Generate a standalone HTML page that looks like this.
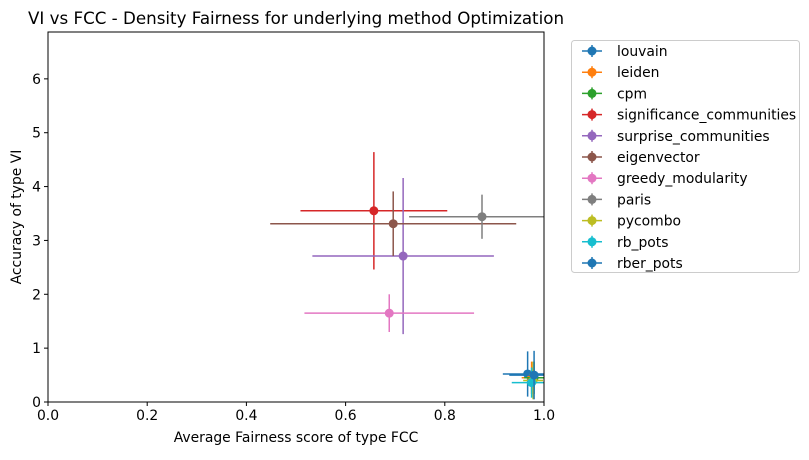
<!DOCTYPE html>
<html><head><meta charset="utf-8"><style>
body{margin:0;background:#fff;font-family:"Liberation Sans","DejaVu Sans",sans-serif;}
svg text{font-family:"DejaVu Sans","Liberation Sans",sans-serif;}
</style></head><body>
<svg id="c" width="809" height="455"></svg>
<script>
const names=["louvain","leiden","cpm","significance_communities","surprise_communities","eigenvector","greedy_modularity","paris","pycombo","rb_pots","rber_pots"];
const colors=["#1f77b4","#ff7f0e","#2ca02c","#d62728","#9467bd","#8c564b","#e377c2","#7f7f7f","#bcbd22","#17becf","#1f77b4"];
const xVals=[0.967,0.975,0.98,0.657,0.716,0.696,0.688,0.875,0.978,0.975,0.98];
const yVals=[0.52,0.45,0.45,3.55,2.71,3.31,1.65,3.44,0.40,0.36,0.50];
const xErr=[0.05,0.02,0.02,0.148,0.183,0.248,0.171,0.147,0.02,0.04,0.05];
const yErr=[0.42,0.30,0.30,1.09,1.45,0.60,0.35,0.41,0.35,0.28,0.45];
const xTicks=[0,0.2,0.4,0.6,0.8,1.0];
const yTicks=[0,1,2,3,4,5,6];
const L=48,R=544,T=32,B=402,YMAX=6.87;
const sx=v=>L+v*(R-L), sy=v=>B-v*(B-T)/YMAX;
const svg=document.getElementById('c');const NS="http://www.w3.org/2000/svg";
function mk(t,a,p){const e=document.createElementNS(NS,t);for(const k in a)e.setAttribute(k,a[k]);(p||svg).appendChild(e);return e;}
const cp=mk('clipPath',{id:'cp'});mk('rect',{x:L,y:T,width:R-L,height:B-T},cp);
let t=mk('text',{x:296,y:24,'font-size':16.7,'text-anchor':'middle',fill:'#000'});t.textContent="VI vs FCC - Density Fairness for underlying method Optimization";


xTicks.forEach(v=>{const x=sx(v);mk('line',{x1:x,x2:x,y1:B,y2:B+4,stroke:'#000'});const e=mk('text',{x:x,y:B+18,'font-size':13.9,'text-anchor':'middle'});e.textContent=v.toFixed(1);

});
yTicks.forEach(v=>{const y=sy(v);mk('line',{x1:L-4,x2:L,y1:y,y2:y,stroke:'#000'});const e=mk('text',{x:L-7,y:y+5,'font-size':13.9,'text-anchor':'end'});e.textContent=v;

});
t=mk('text',{x:296,y:442,'font-size':13.9,'text-anchor':'middle'});t.textContent="Average Fairness score of type FCC";


t=mk('text',{x:21,y:217,'font-size':13.9,'text-anchor':'middle',transform:'rotate(-90 21 217)'});t.textContent="Accuracy of type VI";


const g=mk('g',{'clip-path':'url(#cp)'});
names.forEach((n,i)=>{const s=mk('g',{},g);


const x=sx(xVals[i]),y=sy(yVals[i]),c=colors[i];
mk('line',{x1:sx(xVals[i]-xErr[i]),x2:sx(xVals[i]+xErr[i]),y1:y,y2:y,stroke:c,'stroke-width':1.5},s);
mk('line',{x1:x,x2:x,y1:sy(yVals[i]-yErr[i]),y2:sy(yVals[i]+yErr[i]),stroke:c,'stroke-width':1.5},s);
mk('circle',{cx:x,cy:y,r:4.5,fill:c},s);});
mk('rect',{x:L,y:T,width:R-L,height:B-T,fill:'none',stroke:'#000','stroke-width':1});
const lg=mk('g',{});


mk('rect',{x:571.5,y:40.5,width:228,height:232,rx:3,fill:'#fff',stroke:'#ccc'},lg);
names.forEach((n,i)=>{const y=51+i*21.2,c=colors[i];const e=mk('g',{},lg);


mk('line',{x1:582,x2:602,y1:y,y2:y,stroke:c,'stroke-width':1.5},e);
mk('line',{x1:592,x2:592,y1:y-6,y2:y+6,stroke:c,'stroke-width':1.5},e);
mk('circle',{cx:592,cy:y,r:4.5,fill:c},e);
const tx=mk('text',{x:617,y:y+5,'font-size':13.9},e);tx.textContent=n;});
</script>
</body></html>
